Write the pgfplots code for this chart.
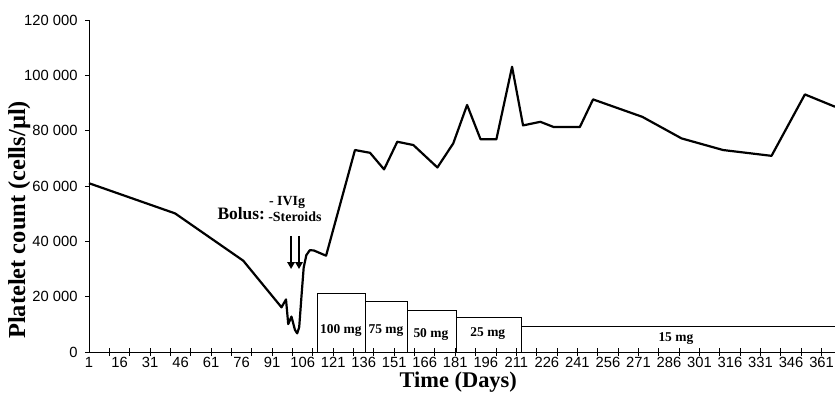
\documentclass[border=0pt]{standalone}
\usepackage{pgfplots}
\pgfplotsset{compat=1.18}
\usepackage{fontspec}
\setmainfont{Liberation Serif}
\newfontfamily\arialf{Liberation Sans}
\usetikzlibrary{arrows.meta}
\begin{document}
\begin{tikzpicture}[x=1bp,y=1bp]
\path[use as bounding box] (0,0) rectangle (835,398);
\begin{axis}[
  at={(89bp,46bp)}, anchor=origin,
  width=746bp, height=332bp, scale only axis,
  xmin=1, xmax=367.6, ymin=0, ymax=120000,
  axis x line=bottom, axis y line=left,
  axis line style={-, line width=0.9bp},
  clip=false, scaled y ticks=false,
  /pgf/number format/assume math mode=true,
  ticklabel style={font=\arialf\fontsize{14.8}{14.8}\selectfont},
  xtick={11,21,...,361}, xticklabels={},
  xtick align=center,
  major tick length=8bp,
  extra x ticks={1,16,...,361},
  extra x tick style={major tick length=0pt, xticklabel style={yshift=-2bp}},
  extra x tick labels={1,16,31,46,61,76,91,106,121,136,151,166,181,196,211,226,241,256,271,286,301,316,331,346,361},
  ytick={0,20000,...,120000},
  yticklabels={0,20 000,40 000,60 000,80 000,100 000,120 000},
  y tick style={/pgfplots/major tick length=4bp},
  ytick align=outside,
  tick style={black, line width=0.9bp},
  xlabel={Time (Days)},
  ylabel={Platelet count (cells/µl)},
  xlabel style={font=\bfseries\fontsize{22.5}{22.5}\selectfont, at={(rel axis cs:0.495,-0.09)}, anchor=center},
  ylabel style={font=\bfseries\fontsize{24.5}{24.5}\selectfont, at={(rel axis cs:-0.0935,0.398)}, anchor=center, rotate=0},
]
% dose boxes
\addplot[black, line width=0.8bp] coordinates {(113,0) (113,21200) (137,21200) (137,0)};
\addplot[black, line width=0.8bp] coordinates {(137,18300) (157.3,18300) (157.3,0)};
\addplot[black, line width=0.8bp] coordinates {(157.3,15200) (181.3,15200) (181.3,0)};
\addplot[black, line width=0.8bp] coordinates {(181.3,12400) (213.7,12400) (213.7,0)};
\addplot[black, line width=0.8bp] coordinates {(213.7,9400) (367.6,9400)};
% platelet count
\addplot[black, line width=2.2bp, line join=round] coordinates {
(1,61000) (43.3,50100) (76.8,33000) (95.6,16150) (97.8,19000) (98.9,10100)
(100.5,12800) (102.2,8000) (103.3,6750) (104.3,9000) (105.4,20000) (106.5,30500)
(107.8,35000) (109.5,36800) (111.5,36700) (117.5,34800) (131.7,73000) (139.1,72000)
(146,66000) (152.5,76000) (160.4,74800) (172.2,66700) (180,75400) (186.8,89300)
(193.4,76900) (201.2,76900) (208.9,103100) (214.3,81900) (222.8,83200) (229.4,81300)
(242.2,81300) (248.7,91300) (272.9,85000) (292.2,77200) (312.6,73000) (336.4,70900)
(352.8,93100) (367.6,88650)};
\node[font=\bfseries\fontsize{13.5}{13.5}\selectfont] at (axis cs:124.8,7600) {100 mg};
\node[font=\bfseries\fontsize{13.5}{13.5}\selectfont] at (axis cs:146.9,7600) {75 mg};
\node[font=\bfseries\fontsize{13.5}{13.5}\selectfont] at (axis cs:169,6500) {50 mg};
\node[font=\bfseries\fontsize{13.5}{13.5}\selectfont] at (axis cs:197,6500) {25 mg};
\node[font=\bfseries\fontsize{13.5}{13.5}\selectfont] at (axis cs:289.4,5000) {15 mg};
\node[font=\bfseries\fontsize{17.5}{17.5}\selectfont, anchor=east, inner sep=0pt] at (axis cs:87.6,50000) {Bolus:};
\node[font=\bfseries\fontsize{14}{14}\selectfont, anchor=west, inner sep=0pt] at (axis cs:89.4,54000) {- IVIg};
\node[font=\bfseries\fontsize{14}{14}\selectfont, anchor=west, inner sep=0pt] at (axis cs:89,48800) {-Steroids};
\draw[line width=2bp, -{Triangle[length=7bp,width=7.5bp]}] (axis cs:100.3,42000) -- (axis cs:100.3,30000);
\draw[line width=2bp, -{Triangle[length=7bp,width=7.5bp]}] (axis cs:104.2,42000) -- (axis cs:104.2,30000);
\end{axis}
\end{tikzpicture}
\end{document}
